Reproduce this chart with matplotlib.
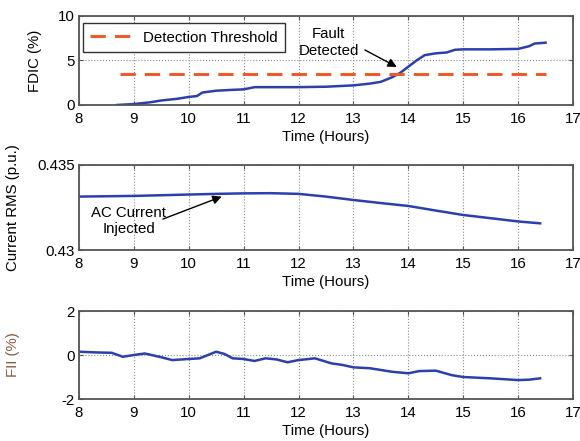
import numpy as np
import matplotlib.pyplot as plt

plt.rcParams['font.family'] = ['Liberation Sans', 'DejaVu Sans']
plt.rcParams['font.size'] = 10.8
plt.rcParams['axes.unicode_minus'] = False

# FDIC (%)
t_fdic = [8.7, 9.0, 9.3, 9.5, 9.8, 10.0, 10.15, 10.25, 10.5, 10.8, 11.0, 11.2, 11.5,
          12.0, 12.5, 13.0, 13.3, 13.5, 13.7, 13.85, 14.0, 14.15, 14.3, 14.5, 14.7,
          14.85, 15.0, 15.5, 16.0, 16.2, 16.3, 16.5]
fdic = [0.0, 0.1, 0.3, 0.5, 0.7, 0.9, 1.0, 1.4, 1.6, 1.7, 1.75, 2.0, 2.0,
        2.0, 2.05, 2.2, 2.4, 2.6, 3.1, 3.6, 4.3, 5.0, 5.6, 5.8, 5.9,
        6.2, 6.25, 6.25, 6.3, 6.6, 6.9, 7.0]
threshold = 3.5
thr_span = [8.75, 16.5]

# Current RMS (p.u.)
t_rms = [8.0, 9.0, 10.0, 10.5, 11.0, 11.5, 12.0, 12.5, 13.0, 13.5, 14.0, 14.5,
         15.0, 15.5, 16.0, 16.4]
rms = [0.43314, 0.43318, 0.43326, 0.43330, 0.43333, 0.43334, 0.43330, 0.43314,
       0.43294, 0.43276, 0.43259, 0.43232, 0.43206, 0.43187, 0.43168, 0.43157]

# FII (%)
t_fii = [8.0, 8.3, 8.6, 8.8, 9.0, 9.2, 9.5, 9.7, 10.0, 10.2, 10.35, 10.5, 10.65,
         10.8, 11.0, 11.2, 11.4, 11.6, 11.8, 12.0, 12.3, 12.6, 12.8, 13.0, 13.3,
         13.5, 13.7, 14.0, 14.2, 14.5, 14.8, 15.0, 15.5, 16.0, 16.2, 16.4]
fii = [0.15, 0.12, 0.1, -0.08, 0.0, 0.07, -0.1, -0.23, -0.18, -0.15, 0.0, 0.15, 0.05,
       -0.15, -0.18, -0.27, -0.15, -0.2, -0.33, -0.23, -0.15, -0.38, -0.45, -0.56, -0.6,
       -0.68, -0.76, -0.83, -0.73, -0.71, -0.92, -1.0, -1.06, -1.14, -1.12, -1.06]

blue = '#2b3fae'
red = '#f05a2a'
frame = '#555555'
arrow = dict(arrowstyle='-|>', color='black', lw=1.0, mutation_scale=13,
             shrinkA=0, shrinkB=0)

fig = plt.figure(figsize=(5.8, 4.41), dpi=100)
ax1 = fig.add_axes([0.136, 0.762, 0.852, 0.2018])
ax2 = fig.add_axes([0.136, 0.433, 0.852, 0.193])
ax3 = fig.add_axes([0.136, 0.0952, 0.852, 0.1995])

for ax in (ax1, ax2, ax3):
    ax.set_xlim(8, 17)
    ax.set_xticks(range(8, 18))
    ax.tick_params(direction='in', top=True, right=True, length=3, color=frame, pad=3)
    ax.tick_params(axis='x', pad=5)
    ax.grid(True, linestyle=':', color='#888888', linewidth=0.8)
    for s in ax.spines.values():
        s.set_color(frame)
        s.set_linewidth(1.3)
    ax.set_xlabel('Time (Hours)', labelpad=3)

ax1.plot(t_fdic, fdic, color=blue, linewidth=1.8)
ax1.plot(thr_span, [threshold, threshold], '--', color=red, linewidth=2.2,
         dashes=(5, 3), label='Detection Threshold')
ax1.set_ylim(0, 10)
ax1.set_yticks([0, 5, 10])
ax1.set_ylabel('FDIC (%)')
ax1.yaxis.set_label_coords(-0.075, 0.5)
leg = ax1.legend(loc='upper left', bbox_to_anchor=(0.008, 0.92), borderaxespad=0,
                 fancybox=False, framealpha=1, edgecolor='#333333',
                 handlelength=3.0, handletextpad=0.5, borderpad=0.5)
leg.get_frame().set_linewidth(1.0)
ax1.text(12.55, 7.0, 'Fault\nDetected', ha='center', va='center', linespacing=1.3)
ax1.annotate('', xy=(13.79, 4.27), xytext=(13.21, 6.18), arrowprops=arrow)

ax2.plot(t_rms, rms, color=blue, linewidth=1.8)
ax2.set_ylim(0.43, 0.435)
ax2.set_yticks([0.43, 0.435])
ax2.set_yticklabels(['0.43', '0.435'])
ax2.set_ylabel('Current RMS (p.u.)')
ax2.yaxis.set_label_coords(-0.119, 0.5)
ax2.text(8.91, 0.43172, 'AC Current\nInjected', ha='center', va='center',
         linespacing=1.2)
ax2.annotate('', xy=(10.6, 0.43314), xytext=(9.53, 0.43182), arrowprops=arrow)

ax3.plot(t_fii, fii, color=blue, linewidth=1.8)
ax3.set_ylim(-2, 2)
ax3.set_yticks([-2, 0, 2])
ax3.set_ylabel('FII (%)', color='#8c5a48')
ax3.yaxis.set_label_coords(-0.119, 0.5)

fig.savefig('out.png', dpi=100)
